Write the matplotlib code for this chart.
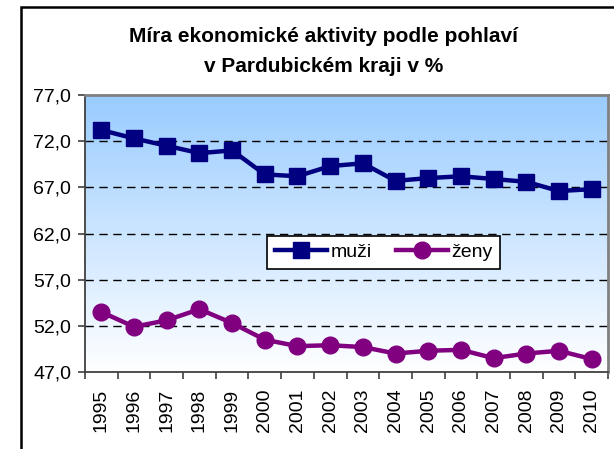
import matplotlib
matplotlib.use("Agg")
import matplotlib.pyplot as plt
import numpy as np
from matplotlib.patches import Rectangle
from matplotlib.colors import LinearSegmentedColormap

years = ["1995", "1996", "1997", "1998", "1999", "2000", "2001", "2002",
         "2003", "2004", "2005", "2006", "2007", "2008", "2009", "2010"]
muzi = [73.2, 72.3, 71.5, 70.7, 71.0, 68.4, 68.2, 69.3, 69.6, 67.7, 68.0, 68.2, 67.9, 67.6, 66.6, 66.8]
zeny = [53.5, 51.9, 52.6, 53.8, 52.3, 50.5, 49.8, 49.9, 49.7, 49.0, 49.3, 49.4, 48.5, 49.0, 49.3, 48.4]
yticks = [47.0, 52.0, 57.0, 62.0, 67.0, 72.0, 77.0]

plt.rcParams['font.family'] = ['Liberation Sans', 'DejaVu Sans']

fig = plt.figure(figsize=(6.14, 4.49), dpi=100)
fig.patch.set_facecolor('white')
ax = fig.add_axes([85/614, 1-372/449, (608-85)/614, (372-95)/449])

# outer frame
fig.add_artist(Rectangle((21/614, -0.2), 1.5, 1-7/449+0.2, transform=fig.transFigure,
                         fill=False, edgecolor='black', linewidth=1.8))

# gradient background
cmap = LinearSegmentedColormap.from_list('g', ['#FFFFFF', '#99CCFF'])
grad = np.linspace(0, 1, 256).reshape(-1, 1)
ax.imshow(grad, aspect='auto', cmap=cmap, origin='lower',
          extent=[0, 1, 0, 1], transform=ax.transAxes, zorder=0)

x = np.arange(len(years))
ax.set_xlim(-0.5, len(years) - 0.5)
ax.set_ylim(47, 77)

for yv in yticks[1:-1]:
    ax.axhline(yv, color='black', linewidth=1, dashes=(6, 4), zorder=1)

ax.plot(x, muzi, color='#000080', linewidth=3.2, marker='s', markersize=11.5,
        label='muži', zorder=3)
ax.plot(x, zeny, color='#800080', linewidth=3.2, marker='o', markersize=12,
        label='ženy', zorder=3)

ax.set_yticks(yticks)
ax.set_yticklabels([f"{v:.1f}".replace('.', ',') for v in yticks], fontsize=14)
ax.set_xticks(x)
ax.set_xticklabels(years, rotation=90, fontsize=14)
ax.set_xticks(np.arange(-0.5, len(years)), minor=True)
ax.tick_params(axis='x', which='major', length=0, pad=12)
ax.tick_params(axis='x', which='minor', length=5, width=1.2, color='#404040')
ax.tick_params(axis='y', length=5, width=1.2, color='#404040', pad=5)

for s in ['top', 'right']:
    ax.spines[s].set_color('#808080')
    ax.spines[s].set_linewidth(2)
for s in ['left', 'bottom']:
    ax.spines[s].set_color('#404040')
    ax.spines[s].set_linewidth(1.3)

leg = ax.legend(loc='lower left', bbox_to_anchor=(0.348, 0.372, 0.446, 0.159),
                mode='expand', ncol=2, fontsize=14, frameon=True, fancybox=False,
                edgecolor='black', facecolor='white', framealpha=1,
                handlelength=2.7, borderaxespad=0, columnspacing=1.0, handletextpad=0.15)
leg.get_frame().set_linewidth(1.2)

fig.text(323.5/614, 1-37/449, "Míra ekonomické aktivity podle pohlaví", ha='center', va='center',
         fontsize=15, fontweight='bold')
fig.text(323.5/614, 1-67/449, "v Pardubickém kraji v %", ha='center', va='center',
         fontsize=15, fontweight='bold')

fig.savefig('out.png', dpi=100, facecolor='white')
